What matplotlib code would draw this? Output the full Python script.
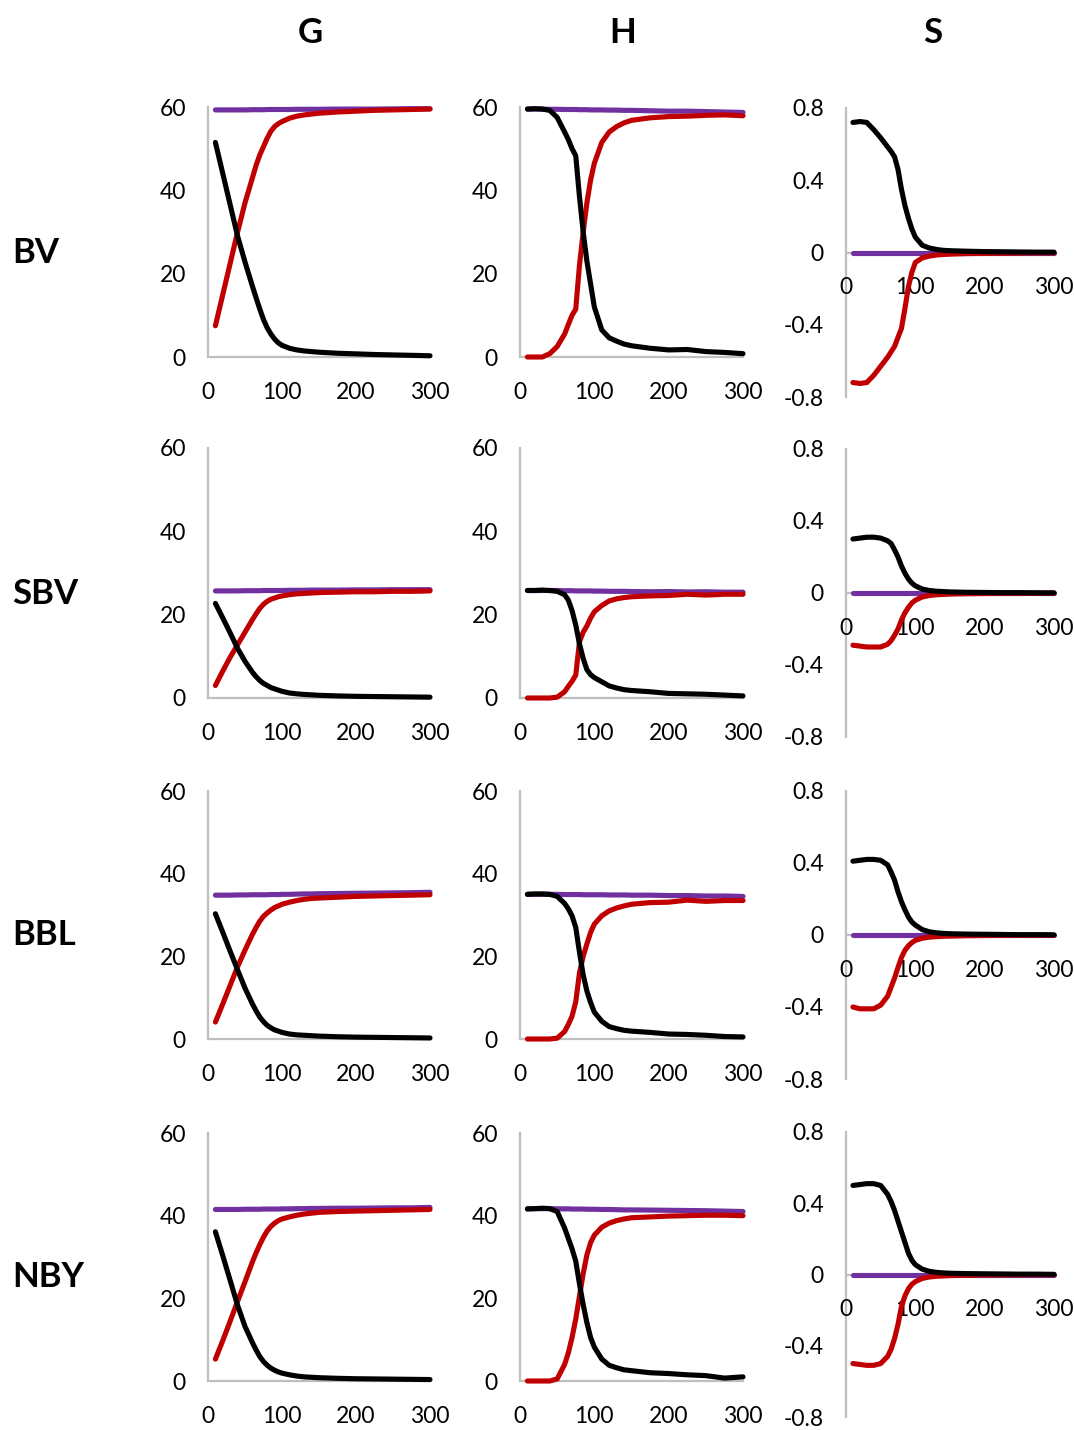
import matplotlib
matplotlib.use("Agg")
import matplotlib.pyplot as plt

plt.rcParams['font.family'] = ['Lato', 'DejaVu Sans']

# ---------------- data ----------------
x = [10, 20, 30, 40, 50, 60, 65, 70, 75, 80, 85, 90, 95, 100, 110, 120, 130, 140, 150,
     175, 200, 225, 250, 275, 300]

row_labels = ["BV", "SBV", "BBL", "NBY"]
col_labels = ["G", "H", "S"]

gh_yticks = [0, 20, 40, 60]
s_yticks = [-0.8, -0.4, 0, 0.4, 0.8]
s_yticklabels = ["-0.8", "-0.4", "0", "0.4", "0.8"]
xticks = [0, 100, 200, 300]

s_zero = [0, 0, 0, 0, 0, 0, 0, 0, 0, 0, 0, 0, 0, 0, 0, 0, 0, 0, 0, 0, 0, 0, 0, 0, 0]

# BV
g_bv_purple = [59.3, 59.3, 59.3, 59.3, 59.3, 59.35, 59.35, 59.35, 59.35, 59.4, 59.4, 59.4, 59.4, 59.4, 59.4,
               59.45, 59.45, 59.45, 59.45, 59.5, 59.5, 59.5, 59.55, 59.6, 59.6]
g_bv_red = [7.5, 15, 22.5, 30, 37, 43, 46, 48.5, 50.5, 52.5, 54.2, 55.3, 56.0, 56.5, 57.3, 57.8, 58.1, 58.3,
            58.5, 58.8, 59.0, 59.2, 59.3, 59.4, 59.5]
g_bv_black = [51.5, 44, 36.5, 29, 22.8, 17, 14.2, 11.5, 9, 7, 5.5, 4.3, 3.4, 2.8, 2.1, 1.7, 1.45, 1.3, 1.15,
              0.9, 0.75, 0.6, 0.5, 0.4, 0.3]
h_bv_purple = [59.5, 59.5, 59.5, 59.45, 59.45, 59.4, 59.4, 59.4, 59.4, 59.35, 59.35, 59.35, 59.3, 59.3, 59.3,
               59.25, 59.25, 59.2, 59.2, 59.1, 59.0, 59.0, 58.9, 58.8, 58.7]
h_bv_red = [0, 0, 0, 0.8, 2.5, 5.5, 7.8, 10, 11.5, 22, 30, 37, 42.5, 46.5, 51.5, 54, 55.3, 56.2, 56.8,
            57.4, 57.7, 57.8, 58.0, 58.1, 57.9]
h_bv_black = [59.5, 59.6, 59.5, 59.2, 57.5, 54, 52.2, 50, 48.3, 38.5, 30, 23, 17.5, 12, 6.5, 4.6, 3.8, 3.1,
              2.7, 2.1, 1.7, 1.8, 1.3, 1.1, 0.8]
s_bv_red = [-0.72, -0.725, -0.72, -0.68, -0.63, -0.58, -0.55, -0.52, -0.47, -0.42, -0.31, -0.19, -0.11,
            -0.055, -0.03, -0.02, -0.014, -0.011, -0.009, -0.006, -0.005, -0.004, -0.003, -0.002, -0.002]
s_bv_black = [0.72, 0.725, 0.72, 0.68, 0.635, 0.585, 0.56, 0.53, 0.46, 0.35, 0.26, 0.19, 0.13, 0.085, 0.04,
              0.025, 0.017, 0.012, 0.01, 0.007, 0.005, 0.004, 0.003, 0.002, 0.002]

# SBV
g_sbv_purple = [25.7, 25.7, 25.7, 25.7, 25.75, 25.75, 25.75, 25.75, 25.8, 25.8, 25.8, 25.8, 25.8, 25.8, 25.85,
                25.85, 25.85, 25.9, 25.9, 25.9, 25.95, 25.95, 26.0, 26.0, 26.0]
g_sbv_red = [3.0, 6.5, 9.8, 12.8, 15.8, 18.8, 20.2, 21.5, 22.5, 23.2, 23.7, 24.0, 24.3, 24.5, 24.8, 25.0, 25.1,
             25.2, 25.3, 25.4, 25.5, 25.5, 25.6, 25.6, 25.7]
g_sbv_black = [22.7, 19.2, 15.6, 11.9, 8.8, 6.2, 5.1, 4.2, 3.5, 3.0, 2.5, 2.2, 1.9, 1.6, 1.2, 1.0, 0.85, 0.75,
               0.65, 0.5, 0.4, 0.35, 0.3, 0.25, 0.2]
h_sbv_purple = [25.8, 25.8, 25.8, 25.8, 25.8, 25.75, 25.75, 25.75, 25.7, 25.7, 25.7, 25.7, 25.7, 25.65, 25.65,
                25.6, 25.6, 25.6, 25.55, 25.5, 25.55, 25.45, 25.5, 25.4, 25.4]
h_sbv_red = [0, 0, 0, 0, 0.2, 1.5, 2.8, 4.0, 5.5, 13.5, 15.8, 17.3, 19.2, 20.7, 22.2, 23.3, 23.8, 24.1, 24.3,
             24.5, 24.6, 24.9, 24.7, 24.9, 24.9]
h_sbv_black = [25.8, 25.8, 25.9, 25.8, 25.6, 24.8, 23.5, 21.0, 17.5, 13, 9.5, 6.8, 5.6, 4.9, 3.9, 2.9, 2.4,
               2.0, 1.8, 1.5, 1.1, 1.0, 0.9, 0.7, 0.5]
s_sbv_red = [-0.29, -0.295, -0.30, -0.30, -0.30, -0.285, -0.265, -0.235, -0.2, -0.15, -0.11, -0.08, -0.055,
             -0.04, -0.022, -0.014, -0.01, -0.008, -0.006, -0.004, -0.003, -0.002, -0.002, -0.001, -0.001]
s_sbv_black = [0.30, 0.305, 0.31, 0.31, 0.305, 0.29, 0.275, 0.24, 0.2, 0.15, 0.11, 0.078, 0.055, 0.04, 0.022,
               0.014, 0.01, 0.008, 0.006, 0.004, 0.003, 0.002, 0.002, 0.001, 0.001]

# BBL
g_bbl_purple = [34.8, 34.8, 34.8, 34.85, 34.85, 34.9, 34.9, 34.9, 34.9, 34.9, 34.95, 34.95, 34.95, 35.0, 35.0,
                35.05, 35.1, 35.1, 35.15, 35.2, 35.25, 35.3, 35.35, 35.4, 35.5]
g_bbl_red = [4.1, 8.5, 13, 17.5, 21.5, 25.3, 27.0, 28.5, 29.7, 30.5, 31.2, 31.8, 32.2, 32.6, 33.1, 33.5, 33.8,
             34.0, 34.1, 34.3, 34.5, 34.6, 34.7, 34.8, 34.9]
g_bbl_black = [30.3, 25.8, 21.2, 16.7, 12.3, 8.5, 6.8, 5.3, 4.2, 3.3, 2.7, 2.2, 1.9, 1.6, 1.2, 1.0, 0.9, 0.8,
               0.7, 0.55, 0.45, 0.4, 0.35, 0.3, 0.25]
h_bbl_purple = [35.0, 35.0, 35.0, 35.0, 35.0, 34.95, 34.95, 34.95, 34.95, 34.95, 34.9, 34.9, 34.9, 34.9, 34.9,
                34.85, 34.85, 34.85, 34.8, 34.8, 34.7, 34.7, 34.6, 34.6, 34.5]
h_bbl_red = [0, 0, 0, 0, 0.2, 1.8, 3.5, 5.5, 9, 16, 20, 23, 25.8, 27.8, 29.8, 31, 31.7, 32.2, 32.6, 33.0,
             33.1, 33.6, 33.3, 33.5, 33.5]
h_bbl_black = [35.0, 35.1, 35.1, 35.0, 34.5, 32.8, 31.5, 29.8, 27, 21, 15.5, 11.6, 8.8, 6.5, 4.3, 3.0, 2.5,
               2.1, 1.9, 1.6, 1.2, 1.1, 0.9, 0.6, 0.5]
s_bbl_red = [-0.40, -0.41, -0.41, -0.41, -0.39, -0.34, -0.29, -0.24, -0.18, -0.125, -0.085, -0.06, -0.042,
             -0.03, -0.018, -0.012, -0.009, -0.007, -0.006, -0.004, -0.003, -0.002, -0.002, -0.001, -0.001]
s_bbl_black = [0.41, 0.415, 0.42, 0.42, 0.415, 0.39, 0.35, 0.305, 0.24, 0.185, 0.14, 0.1, 0.072, 0.055, 0.03,
               0.018, 0.012, 0.009, 0.007, 0.005, 0.004, 0.003, 0.002, 0.002, 0.001]

# NBY
g_nby_purple = [41.5, 41.5, 41.5, 41.5, 41.55, 41.55, 41.55, 41.55, 41.6, 41.6, 41.6, 41.6, 41.6, 41.65, 41.65,
                41.7, 41.7, 41.75, 41.75, 41.8, 41.8, 41.85, 41.9, 41.9, 42.0]
g_nby_red = [5.3, 9.8, 14.5, 19.3, 24, 28.8, 31, 33, 34.8, 36.3, 37.4, 38.2, 38.8, 39.2, 39.7, 40.1, 40.4,
             40.6, 40.8, 41.0, 41.1, 41.2, 41.3, 41.4, 41.5]
g_nby_black = [36.1, 30.3, 24.3, 18.3, 13.2, 9.3, 7.5, 5.9, 4.7, 3.8, 3.1, 2.6, 2.2, 1.9, 1.5, 1.2, 1.0, 0.9,
               0.8, 0.65, 0.55, 0.5, 0.45, 0.4, 0.35]
h_nby_purple = [41.7, 41.7, 41.7, 41.7, 41.65, 41.65, 41.65, 41.6, 41.6, 41.6, 41.6, 41.55, 41.55, 41.55, 41.5,
                41.5, 41.45, 41.4, 41.4, 41.35, 41.3, 41.25, 41.2, 41.1, 41.0]
h_nby_red = [0, 0, 0, 0, 0.5, 4, 6.8, 10.5, 15, 20.5, 26, 30.5, 33.5, 35.3, 37.2, 38.2, 38.8, 39.2, 39.5,
             39.7, 39.9, 40.0, 40.1, 40.1, 40.0]
h_nby_black = [41.6, 41.7, 41.8, 41.7, 41.0, 37, 34.5, 32, 29, 23.5, 18.5, 14.1, 10.5, 8.2, 5.3, 3.8, 3.2,
               2.7, 2.5, 2.0, 1.8, 1.5, 1.3, 0.7, 1.0]
s_nby_red = [-0.50, -0.505, -0.51, -0.51, -0.50, -0.46, -0.42, -0.36, -0.28, -0.18, -0.12, -0.08, -0.055,
             -0.04, -0.022, -0.014, -0.01, -0.008, -0.006, -0.004, -0.003, -0.002, -0.002, -0.001, -0.001]
s_nby_black = [0.50, 0.505, 0.51, 0.51, 0.50, 0.45, 0.41, 0.36, 0.30, 0.24, 0.18, 0.12, 0.08, 0.055, 0.03,
               0.018, 0.012, 0.009, 0.007, 0.005, 0.004, 0.003, 0.002, 0.002, 0.001]

panels = {
    ("BV", "G"): (g_bv_purple, g_bv_red, g_bv_black),
    ("BV", "H"): (h_bv_purple, h_bv_red, h_bv_black),
    ("BV", "S"): (s_zero, s_bv_red, s_bv_black),
    ("SBV", "G"): (g_sbv_purple, g_sbv_red, g_sbv_black),
    ("SBV", "H"): (h_sbv_purple, h_sbv_red, h_sbv_black),
    ("SBV", "S"): (s_zero, s_sbv_red, s_sbv_black),
    ("BBL", "G"): (g_bbl_purple, g_bbl_red, g_bbl_black),
    ("BBL", "H"): (h_bbl_purple, h_bbl_red, h_bbl_black),
    ("BBL", "S"): (s_zero, s_bbl_red, s_bbl_black),
    ("NBY", "G"): (g_nby_purple, g_nby_red, g_nby_black),
    ("NBY", "H"): (h_nby_purple, h_nby_red, h_nby_black),
    ("NBY", "S"): (s_zero, s_nby_red, s_nby_black),
}

# ---------------- style / layout ----------------
W, H = 1074, 1430
PURPLE, RED, BLACK, GRAY = "#7030A0", "#C00000", "#000000", "#BFBFBF"
LW = 3.7
TICK_FS = 16.5

col_px = {"G": (208, 430), "H": (520, 743), "S": (846, 1054)}
row_px_gh = [(107, 357), (448, 698), (791, 1039), (1133, 1381)]
row_px_s = [(108, 397), (449, 737), (791, 1079), (1132, 1417)]
row_label_y = [253, 594, 935, 1277]
col_title_x = {"G": 310, "H": 623, "S": 933}

fig = plt.figure(figsize=(W / 100, H / 100), dpi=100)
fig.patch.set_facecolor("white")

for ri, rname in enumerate(row_labels):
    for cname in col_labels:
        x0, x1 = col_px[cname]
        y0, y1 = (row_px_s if cname == "S" else row_px_gh)[ri]
        ax = fig.add_axes([x0 / W, 1 - y1 / H, (x1 - x0) / W, (y1 - y0) / H])
        purple, red, black = panels[(rname, cname)]
        ax.plot(x, purple, color=PURPLE, lw=LW, solid_capstyle="round", solid_joinstyle="round",
                clip_on=False, zorder=3)
        ax.plot(x, red, color=RED, lw=LW, solid_capstyle="round", solid_joinstyle="round",
                clip_on=False, zorder=4)
        ax.plot(x, black, color=BLACK, lw=LW, solid_capstyle="round", solid_joinstyle="round",
                clip_on=False, zorder=5)
        ax.set_xlim(0, 300)
        ax.set_xticks(xticks)
        ax.set_xticklabels([str(t) for t in xticks])
        if cname == "S":
            ax.set_ylim(-0.8, 0.8)
            ax.set_yticks(s_yticks)
            ax.set_yticklabels(s_yticklabels)
            ax.spines["bottom"].set_position(("data", 0))
        else:
            ax.set_ylim(0, 60)
            ax.set_yticks(gh_yticks)
            ax.set_yticklabels([str(t) for t in gh_yticks])
        for sp in ("top", "right"):
            ax.spines[sp].set_visible(False)
        for sp in ("left", "bottom"):
            ax.spines[sp].set_color(GRAY)
            ax.spines[sp].set_linewidth(1.6)
            ax.spines[sp].set_zorder(1)
        ax.tick_params(axis="both", length=0, labelsize=TICK_FS, colors="black")
        ax.tick_params(axis="x", pad=18)
        ax.tick_params(axis="y", pad=16)
        ax.set_facecolor("none")

for ri, rname in enumerate(row_labels):
    fig.text(12 / W, 1 - row_label_y[ri] / H, rname, ha="left", va="center",
             fontsize=25, fontweight="bold")
for cname in col_labels:
    fig.text(col_title_x[cname] / W, 1 - 33 / H, cname, ha="center", va="center",
             fontsize=25, fontweight="bold")

fig.savefig("out.png", dpi=100, facecolor="white")
